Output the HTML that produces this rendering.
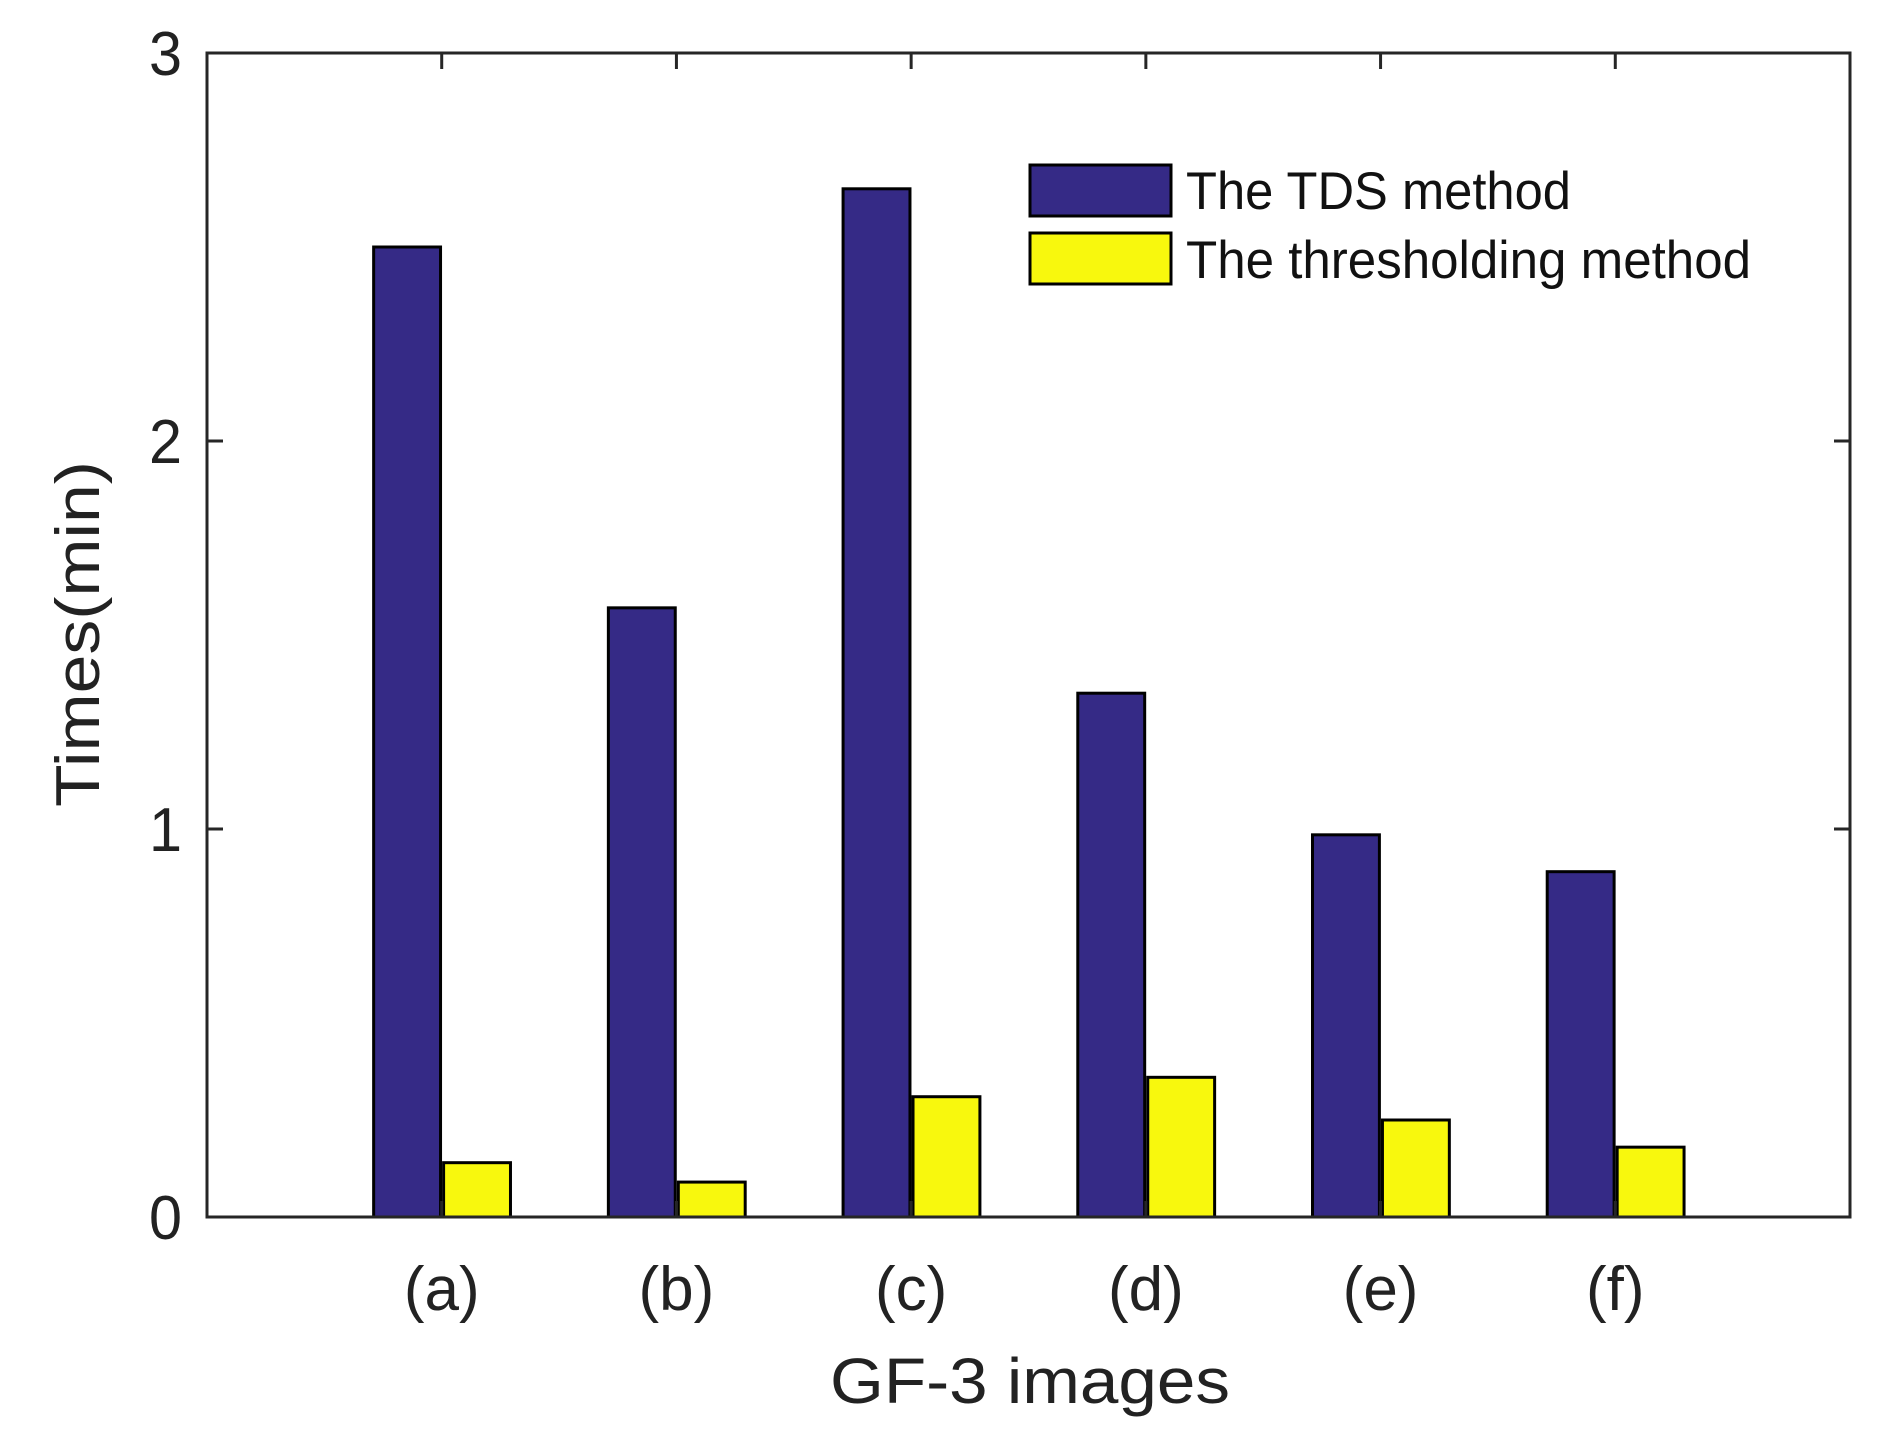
<!DOCTYPE html>
<html><head><meta charset="utf-8"><style>
html,body{margin:0;padding:0;background:#fff;}
svg{display:block;font-family:"Liberation Sans",Arial,sans-serif;}
</style></head><body>
<svg id="chart" width="1888" height="1444" viewBox="0 0 1888 1444" xmlns="http://www.w3.org/2000/svg">
<rect width="1888" height="1444" fill="#fff"/>
<g id="bars"></g>
<g id="axes"></g>
<g>
  <rect x="1030" y="165" width="141" height="51" fill="#352a86" stroke="#000" stroke-width="3"/>
  <text x="1186" y="209" font-size="53" fill="#111" textLength="385" lengthAdjust="spacingAndGlyphs">The TDS method</text>
  <rect x="1030" y="233" width="141" height="51" fill="#f8f80d" stroke="#000" stroke-width="3"/>
  <text x="1186" y="278" font-size="53" fill="#111" textLength="565" lengthAdjust="spacingAndGlyphs">The thresholding method</text>
</g>
<text x="1030" y="1403" font-size="64" fill="#222" text-anchor="middle" textLength="400" lengthAdjust="spacingAndGlyphs">GF-3 images</text>
<text transform="translate(99,634) rotate(-90)" font-size="62" fill="#222" text-anchor="middle" textLength="346" lengthAdjust="spacingAndGlyphs">Times(min)</text>
<script>
const categories = ["(a)","(b)","(c)","(d)","(e)","(f)"];
const tdsValues = [2.50, 1.57, 2.65, 1.35, 0.985, 0.89];
const thresholdingValues = [0.14, 0.09, 0.31, 0.36, 0.25, 0.18];
const yTicks = [0, 1, 2, 3];
const yTickLabels = ["0","1","2","3"];

const NS = "http://www.w3.org/2000/svg";
const L = 207, R = 1850, T = 53, B = 1217;
const xMin = 0, xMax = 7, yMin = 0, yMax = 3;
function xScale(v){ return L + (v - xMin) / (xMax - xMin) * (R - L); }
function yScale(v){ return B - (v - yMin) / (yMax - yMin) * (B - T); }
function mk(tag, attrs, parent){ const e = document.createElementNS(NS, tag); for (const k in attrs) e.setAttribute(k, attrs[k]); parent.appendChild(e); return e; }

const bars = document.getElementById('bars');
const axes = document.getElementById('axes');
const bw = 0.285;
categories.forEach((c, i) => {
  const xc = i + 1;
  const x1 = xScale(xc - 0.005 - bw), x2 = xScale(xc - 0.005);
  const r1 = mk('rect', {x: x1, y: yScale(tdsValues[i]), width: x2 - x1, height: yScale(0) - yScale(tdsValues[i]), fill: '#352a86', stroke: '#000', 'stroke-width': 3}, bars);
  
  
  const x3 = xScale(xc + 0.008), x4 = xScale(xc + 0.008 + bw);
  const r2 = mk('rect', {x: x3, y: yScale(thresholdingValues[i]), width: x4 - x3, height: yScale(0) - yScale(thresholdingValues[i]), fill: '#f8f80d', stroke: '#000', 'stroke-width': 3}, bars);
  
  
  const tb = mk('line', {x1: xScale(xc), x2: xScale(xc), y1: B, y2: B - 16, stroke: '#262626', 'stroke-width': 3}, axes);
  
  
  const tt = mk('line', {x1: xScale(xc), x2: xScale(xc), y1: T, y2: T + 16, stroke: '#262626', 'stroke-width': 3}, axes);
  
  
  const lab = mk('text', {x: xScale(xc), y: 1310, 'font-size': 62, fill: '#222', 'text-anchor': 'middle'}, axes);
  
  
  lab.textContent = c;
});
yTicks.forEach((v, i) => {
  const a = mk('line', {x1: L, x2: L + 16, y1: yScale(v), y2: yScale(v), stroke: '#262626', 'stroke-width': 3}, axes);
  
  
  const b = mk('line', {x1: R, x2: R - 16, y1: yScale(v), y2: yScale(v), stroke: '#262626', 'stroke-width': 3}, axes);
  
  
  const t = mk('text', {x: 182, y: yScale(v) + 22, 'font-size': 62, fill: '#222', 'text-anchor': 'end', textLength: 33, lengthAdjust: 'spacingAndGlyphs'}, axes);
  
  
  t.textContent = yTickLabels[i];
});
const frame = mk('rect', {x: L, y: T, width: R - L, height: B - T, fill: 'none', stroke: '#262626', 'stroke-width': 3}, axes);


</script>
</svg>
</body></html>
